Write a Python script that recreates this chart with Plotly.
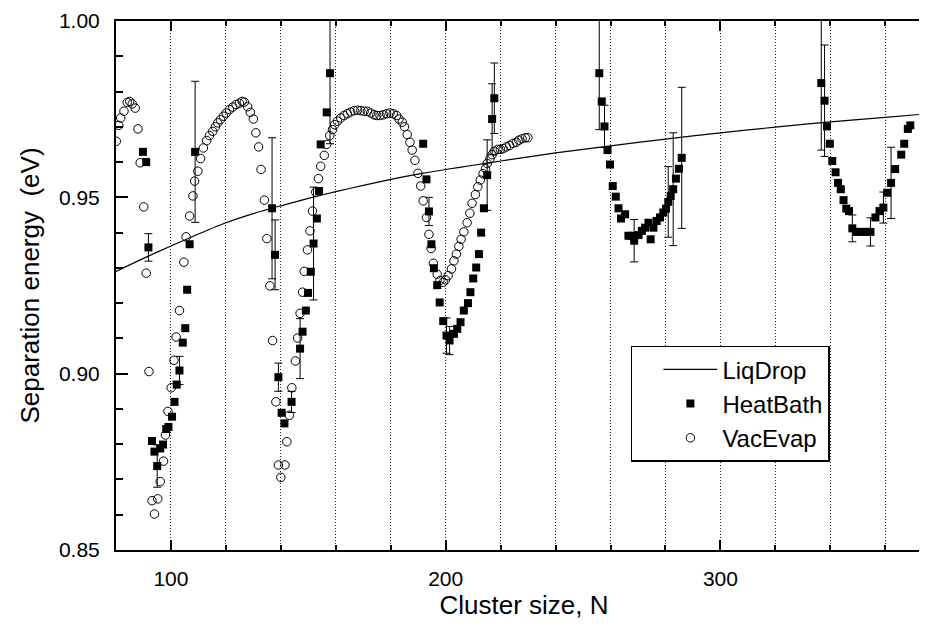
import plotly.graph_objects as go

# ---------------- data ----------------
liq_n = [80, 90, 100, 110, 120, 130, 140, 150, 160, 170, 180, 190, 200, 210, 220,
         240, 260, 280, 300, 320, 340, 360, 377]
liq_e = [0.9290, 0.9327, 0.9362, 0.9396, 0.9428, 0.9454, 0.9476, 0.9497, 0.9516,
         0.9534, 0.9551, 0.9566, 0.9579, 0.9591, 0.9603, 0.9626, 0.9646, 0.9665,
         0.9683, 0.9699, 0.9714, 0.9727, 0.9738]

hb_n = [89.8, 91.0, 91.8, 93.1, 94.0, 95.0, 96.1, 97.1, 98.3, 99.1, 100.4, 101.3, 102.1,
        103.1, 104.3, 105.2, 105.9, 106.8, 108.8,
        136.8, 137.9, 139.1, 140.3, 141.3, 143.9, 147.0, 147.9, 149.1, 149.9, 150.9,
        151.9, 153.1, 153.9, 154.5, 156.7, 157.9,
        191.8, 193.0, 193.9, 194.8, 195.7, 196.9, 197.8, 199.1, 200.3, 201.4, 203.0,
        204.2, 205.4, 206.6, 208.1, 209.0, 210.0, 211.1, 212.1, 212.9, 213.9, 215.1,
        216.9, 217.7,
        255.9, 256.8, 257.8, 258.9, 259.8, 260.8, 261.9, 262.9, 263.8, 265.3, 266.5,
        267.7, 268.6, 270.2, 271.4, 272.6, 273.8, 274.6, 275.6, 276.8, 278.0, 279.2,
        280.2, 281.0, 281.9, 282.8, 283.8, 284.9, 285.9,
        336.7, 337.9, 338.8, 339.8, 340.7, 341.9, 342.8, 343.8, 344.8, 345.8, 346.8,
        348.0, 349.5, 351.2, 353.1, 354.6, 356.4, 357.9, 359.3, 360.7, 362.1, 363.6,
        365.8, 366.9, 368.2, 369.1]
hb_e = [0.9629, 0.9600, 0.9358, 0.8809, 0.8779, 0.8738, 0.8788, 0.8799, 0.8843, 0.8849,
        0.8878, 0.8920, 0.8969, 0.9009, 0.9088, 0.9129, 0.9238, 0.9367, 0.9629,
        0.9469, 0.9337, 0.8990, 0.8889, 0.8859, 0.8920, 0.9071, 0.9119, 0.9179, 0.9229,
        0.9289, 0.9369, 0.9440, 0.9518, 0.9650, 0.9741, 0.9852,
        0.9652, 0.9551, 0.9460, 0.9367, 0.9299, 0.9251, 0.9202, 0.9149, 0.9108, 0.9094,
        0.9113, 0.9127, 0.9146, 0.9179, 0.9200, 0.9231, 0.9270, 0.9301, 0.9339, 0.9400,
        0.9469, 0.9563, 0.9722, 0.9781,
        0.9852, 0.9772, 0.9701, 0.9634, 0.9593, 0.9532, 0.9502, 0.9469, 0.9440, 0.9452,
        0.9391, 0.9391, 0.9377, 0.9393, 0.9405, 0.9414, 0.9428, 0.9381, 0.9414, 0.9433,
        0.9443, 0.9457, 0.9468, 0.9487, 0.9504, 0.9523, 0.9553, 0.9581, 0.9612,
        0.9824, 0.9774, 0.9701, 0.9652, 0.9603, 0.9571, 0.9541, 0.9523, 0.9492, 0.9468,
        0.9461, 0.9412, 0.9402, 0.9402, 0.9402, 0.9402, 0.9443, 0.9461, 0.9471, 0.9513,
        0.9541, 0.9580, 0.9621, 0.9652, 0.9694, 0.9704]

# HeatBath points that carry error bars
err_n = [91.8, 95.0, 103.1, 108.8, 136.8, 137.9, 139.1, 143.9, 147.0, 151.9, 157.9,
         193.9, 200.3, 201.4, 215.1, 216.9, 217.7, 255.9, 257.8, 268.6, 281.0, 282.8,
         285.9, 336.7, 337.9, 348.0, 354.6, 359.3, 362.1]
err_e = [0.9358, 0.8738, 0.9009, 0.9629, 0.9469, 0.9337, 0.8990, 0.8920, 0.9071, 0.9369,
         0.9852, 0.9460, 0.9108, 0.9094, 0.9563, 0.9722, 0.9781, 0.9852, 0.9701, 0.9377,
         0.9487, 0.9523, 0.9612, 0.9824, 0.9774, 0.9412, 0.9402, 0.9471, 0.9541]
err_d = [0.0039, 0.0060, 0.0040, 0.0200, 0.0200, 0.0099, 0.0040, 0.0030, 0.0085, 0.0160,
         0.0200, 0.0040, 0.0050, 0.0040, 0.0100, 0.0100, 0.0100, 0.0160, 0.0060, 0.0060,
         0.0100, 0.0160, 0.0200, 0.0190, 0.0158, 0.0038, 0.0040, 0.0044, 0.0101]

ve_n = [80.1, 81.0, 81.7, 82.9, 84.1, 85.0, 85.9, 87.0, 88.0, 88.8, 90.1, 91.0, 92.0,
        93.1, 94.0, 95.2, 96.1, 97.3, 98.0, 98.9, 100.1, 101.1, 101.9, 103.1, 104.7,
        105.5, 106.8, 108.0, 108.6, 109.8, 110.8, 111.8, 113.0, 114.0, 115.2, 116.2,
        117.0, 118.0, 119.1, 120.1, 121.3, 122.5, 123.7, 124.9, 125.9, 126.7, 127.9,
        128.9, 130.0, 130.9, 131.9, 132.8, 134.0, 134.9, 136.0, 137.0, 138.2, 139.1,
        140.0, 141.5, 142.2, 143.1, 144.0, 145.3, 146.1, 147.0, 147.9, 148.5, 149.7,
        150.6, 151.5, 152.7, 153.7, 154.5, 155.8, 156.7, 157.8, 158.8, 159.6, 160.6,
        161.8, 163.0, 164.2, 165.4, 166.7, 167.9, 169.1, 170.3, 171.5, 172.7, 173.9,
        174.9, 176.1, 177.3, 178.5, 179.7, 180.9, 182.1, 183.0, 184.2, 185.0, 186.0,
        187.0, 187.8, 188.8, 189.9, 190.9, 191.8, 193.0, 193.9, 194.7, 195.5, 196.9,
        197.9, 199.1, 199.9, 200.9, 202.1, 203.0, 203.9, 204.8, 205.6, 206.6, 207.8,
        208.8, 209.6, 210.8, 211.7, 212.6, 213.6, 214.5, 215.1, 216.1, 216.9, 217.7,
        219.0, 219.9, 220.9, 222.1, 223.3, 224.5, 225.7, 226.6, 227.8, 229.0, 229.9]
ve_e = [0.9659, 0.9704, 0.9725, 0.9744, 0.9769, 0.9772, 0.9765, 0.9753, 0.9694, 0.9598,
        0.9473, 0.9285, 0.9006, 0.8640, 0.8602, 0.8645, 0.8694, 0.8752, 0.8826, 0.8893,
        0.8960, 0.9038, 0.9104, 0.9179, 0.9316, 0.9388, 0.9447, 0.9504, 0.9546, 0.9574,
        0.9610, 0.9640, 0.9661, 0.9675, 0.9687, 0.9700, 0.9711, 0.9720, 0.9730, 0.9739,
        0.9749, 0.9756, 0.9763, 0.9767, 0.9772, 0.9770, 0.9757, 0.9741, 0.9722, 0.9683,
        0.9643, 0.9579, 0.9492, 0.9383, 0.9249, 0.9094, 0.8920, 0.8741, 0.8706, 0.8741,
        0.8807, 0.8882, 0.8960, 0.9036, 0.9101, 0.9171, 0.9231, 0.9290, 0.9351, 0.9405,
        0.9461, 0.9515, 0.9553, 0.9588, 0.9619, 0.9650, 0.9675, 0.9692, 0.9706, 0.9716,
        0.9725, 0.9732, 0.9737, 0.9742, 0.9746, 0.9747, 0.9746, 0.9744, 0.9744, 0.9739,
        0.9734, 0.9732, 0.9732, 0.9734, 0.9737, 0.9739, 0.9737, 0.9732, 0.9722, 0.9713,
        0.9700, 0.9678, 0.9656, 0.9634, 0.9605, 0.9568, 0.9532, 0.9490, 0.9443, 0.9395,
        0.9355, 0.9313, 0.9282, 0.9264, 0.9259, 0.9266, 0.9278, 0.9297, 0.9320, 0.9339,
        0.9361, 0.9381, 0.9402, 0.9428, 0.9455, 0.9483, 0.9508, 0.9530, 0.9549, 0.9567,
        0.9581, 0.9596, 0.9609, 0.9621, 0.9631, 0.9636, 0.9636, 0.9638, 0.9643, 0.9647,
        0.9653, 0.9656, 0.9662, 0.9666, 0.9669, 0.9669]

x_range = [80, 377]
y_range = [0.85, 1.00]
x_tick_vals = [100, 200, 300]
y_tick_vals = [0.85, 0.90, 0.95, 1.00]

FONT = "Liberation Sans, Arial, Helvetica, sans-serif"
GRID_DASH = "1px,2px"

fig = go.Figure()

fig.add_trace(go.Scatter(
    x=liq_n, y=liq_e, mode="lines", name="LiqDrop",
    line=dict(color="black", width=1.2, shape="spline", smoothing=0.6)))

fig.add_trace(go.Scatter(
    x=err_n, y=err_e, mode="markers", showlegend=False, hoverinfo="skip",
    marker=dict(size=1, color="rgba(0,0,0,0)"),
    error_y=dict(type="data", array=err_d, symmetric=True, color="black",
                 thickness=1, width=4)))

fig.add_trace(go.Scatter(
    x=hb_n, y=hb_e, mode="markers", name="HeatBath",
    marker=dict(symbol="square", size=8, color="black",
                line=dict(color="black", width=0))))

fig.add_trace(go.Scatter(
    x=ve_n, y=ve_e, mode="markers", name="VacEvap",
    marker=dict(symbol="circle-open", size=8.5, color="black",
                line=dict(color="black", width=1))))

fig.update_layout(
    width=927, height=626,
    margin=dict(l=108, r=1, t=11, b=84),
    paper_bgcolor="white", plot_bgcolor="white",
    font=dict(family=FONT, color="black", size=20),
    showlegend=True,
    legend=dict(x=0.631, y=0.386, xanchor="left", yanchor="top",
                bgcolor="white", bordercolor="black", borderwidth=1.5,
                font=dict(size=24, family=FONT), itemwidth=54, indentation=26,
                entrywidth=132, entrywidthmode="pixels",
                tracegroupgap=0),
)

fig.update_xaxes(
    range=x_range, tickvals=x_tick_vals, ticktext=[str(v) for v in x_tick_vals],
    ticks="inside", ticklen=10, tickwidth=2, tickcolor="black",
    showline=True, linecolor="black", linewidth=2, mirror="ticks",
    showgrid=True, gridcolor="#222222", griddash=GRID_DASH, gridwidth=1,
    zeroline=False,
    tickfont=dict(size=21, family=FONT),
    ticklabelstandoff=9, ticklabeloverflow="allow",
    minor=dict(dtick=20, tick0=0, ticks="inside", ticklen=5, tickwidth=1.5,
               tickcolor="black", showgrid=True, gridcolor="#222222",
               griddash=GRID_DASH, gridwidth=1),
    title=dict(text="Cluster size, N", font=dict(size=26, family=FONT), standoff=7),
)

fig.update_yaxes(
    range=y_range, tickvals=y_tick_vals, ticktext=["%.2f" % v for v in y_tick_vals],
    ticks="inside", ticklen=12, tickwidth=2, tickcolor="black",
    showline=True, linecolor="black", linewidth=2, mirror="ticks",
    showgrid=False, zeroline=False,
    tickfont=dict(size=21, family=FONT),
    ticklabelstandoff=10, ticklabeloverflow="allow",
    minor=dict(dtick=0.01, tick0=0, ticks="inside", ticklen=7, tickwidth=1.5,
               tickcolor="black", showgrid=False),
    title=dict(text="Separation energy \u00a0(eV)", font=dict(size=26, family=FONT),
               standoff=12),
)

fig.write_html("out.html")
